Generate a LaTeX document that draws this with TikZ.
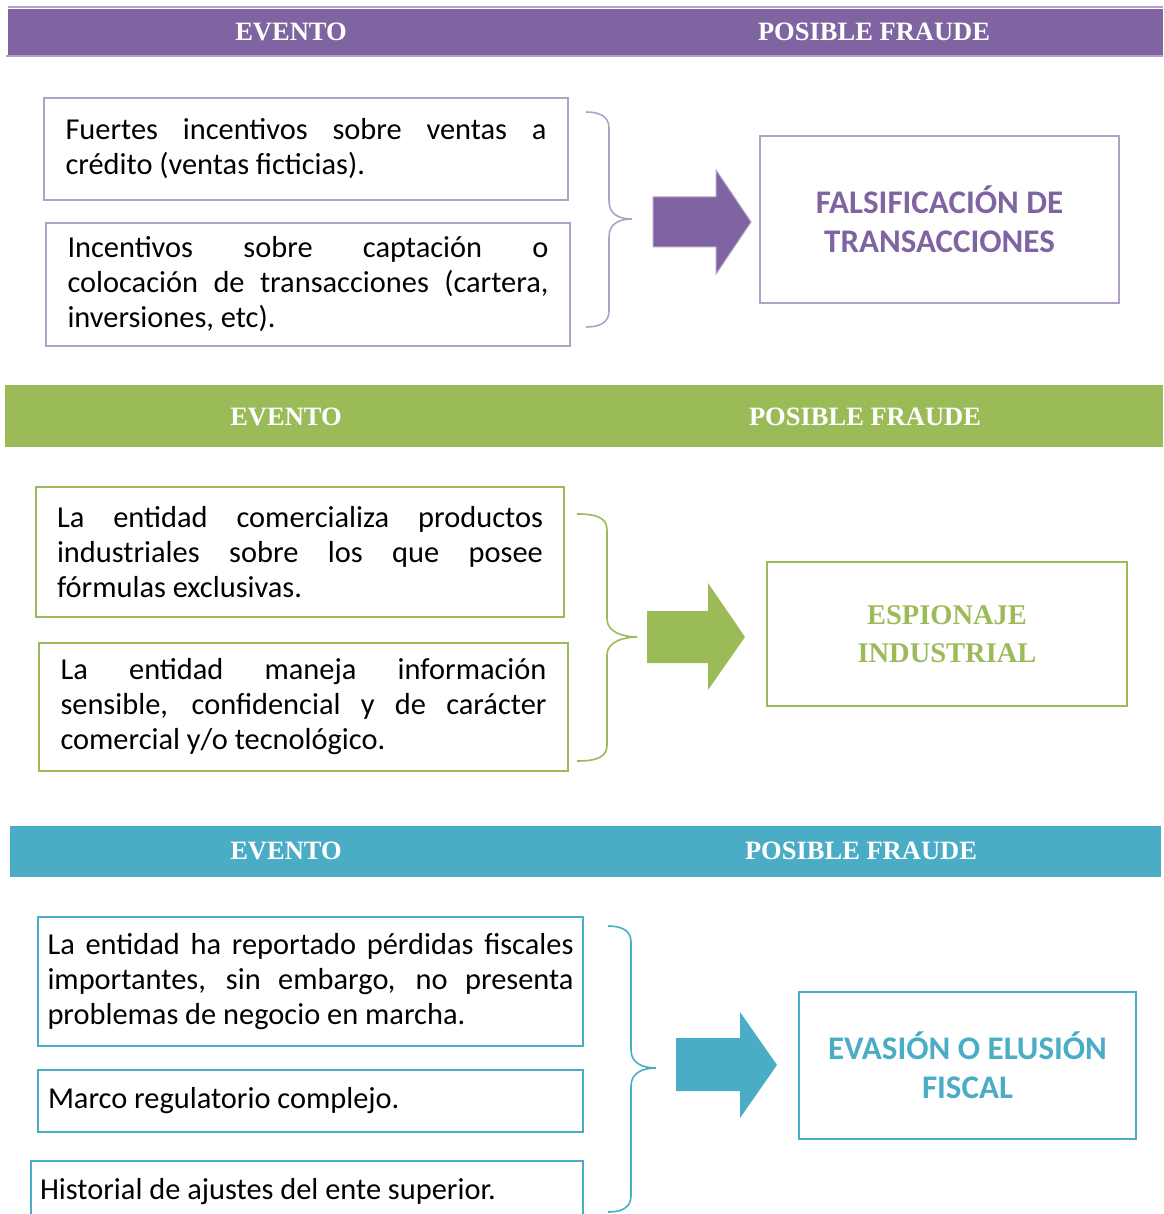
\documentclass[tikz,border=0pt]{standalone}
\usepackage{fontspec}
\setmainfont{Carlito}
\newfontfamily\hdfont{Liberation Serif}
\usetikzlibrary{calc}
\definecolor{purp}{HTML}{8064A2}
\definecolor{purpl}{HTML}{B2A1C7}
\definecolor{grn}{HTML}{9BBB59}
\definecolor{blu}{HTML}{4BACC6}
% one justified line inside a box
\newcommand{\jl}[1]{\makebox[\hsize][s]{\spaceskip=0pt\xspaceskip=0pt #1}\\}
% Word-like curly brace: x end, x stem, x tip, y top, y mid, y bottom
\newcommand{\ebrace}[7][]{\draw[brc,#1] (#2,#5) .. controls ({#3-10},#5) and (#3,{#5+4}) .. (#3,{#5+16}) -- (#3,{#6-18}) .. controls (#3,{#6-4}) and ({#4-12},#6) .. (#4,#6) .. controls ({#4-12},#6) and (#3,{#6+4}) .. (#3,{#6+18}) -- (#3,{#7-16}) .. controls (#3,{#7-4}) and ({#3-10},#7) .. (#2,#7);}

\begin{document}
\begin{tikzpicture}[x=1pt,y=-1pt,
  hdr/.style={font=\hdfont\bfseries\fontsize{26.5}{30}\selectfont, text=white, inner sep=0pt},
  ebox/.style={draw, line width=1.6pt, inner sep=0pt, align=justify, font=\fontsize{30.4}{35}\selectfont, text=black},
  rbox/.style={draw, line width=1.6pt, inner sep=0pt, align=center},
  rtxt/.style={font=\bfseries\fontsize{33}{39}\selectfont},
  brc/.style={line width=1.6pt},
]
\useasboundingbox (0,0) rectangle (1163,1214);
% ---- purple block
\fill[purp] (8,9) rectangle (1163,56);
\draw[purpl,line width=2pt] (8,7.5) -- (1163,7.5); \draw[purpl,line width=2pt] (6,56.5) -- (1163,56.5);
\node[hdr] (ev1) at (291,32) {EVENTO};
\node[hdr] (pf1) at (874,32) {POSIBLE FRAUDE};
\node[ebox,draw=purpl,minimum width=524,minimum height=102,text width=481] (a1) at (306,149) {\jl{Fuertes incentivos sobre ventas a}crédito (ventas ficticias).};
\node[ebox,draw=purpl,minimum width=524,minimum height=123,text width=481] (a2) at (308,284.5) {\jl{Incentivos sobre captación o}\jl{colocación de transacciones (cartera,}inversiones, etc).};
\ebrace[purpl]{586}{609}{632}{112}{219}{327}
\filldraw[fill=purp,draw=purpl,line width=1pt] (653,197) -- (716,197) -- (716,170) -- (751,222) -- (716,274) -- (716,247) -- (653,247) -- cycle;
\node[rbox,draw=purpl,minimum width=359,minimum height=167] (r1) at (939.5,219.5) {};
\node[rtxt,text=purp,align=center] (t1) at (r1) {FALSIFICACIÓN DE\\TRANSACCIONES};
% ---- green block
\fill[grn] (5,385) rectangle (1163,447);
\node[hdr] (ev2) at (286,417) {EVENTO};
\node[hdr] (pf2) at (865,417) {POSIBLE FRAUDE};
\node[ebox,draw=grn,minimum width=528,minimum height=130,text width=486] (b1) at (300,552) {\jl{La entidad comercializa productos}\jl{industriales sobre los que posee}fórmulas exclusivas.};
\node[ebox,draw=grn,minimum width=529,minimum height=128,text width=486] (b2) at (303.5,707) {\jl{La entidad maneja información}\jl{sensible, confidencial y de carácter}comercial y/o tecnológico.};
\ebrace[grn]{577}{607}{637}{514}{637}{761}
\fill[grn] (647,611) -- (708,611) -- (708,583) -- (745,637) -- (708,690) -- (708,663) -- (647,663) -- cycle;
\node[rbox,draw=grn,minimum width=360,minimum height=144] (r2) at (947,634) {};
\node[font=\hdfont\bfseries\fontsize{28.5}{38}\selectfont,text=grn,align=center] (t2) at (r2) {ESPIONAJE\\INDUSTRIAL};
% ---- blue block
\fill[blu] (10,826) rectangle (1161,877);
\node[hdr] (ev3) at (286,851) {EVENTO};
\node[hdr] (pf3) at (861,851) {POSIBLE FRAUDE};
\node[ebox,draw=blu,minimum width=545,minimum height=129,text width=526] (c1) at (310.5,981.5) {\jl{La entidad ha reportado pérdidas fiscales}\jl{importantes, sin embargo, no presenta}problemas de negocio en marcha.};
\node[ebox,draw=blu,minimum width=545,minimum height=62,text width=525] (c2) at (310.5,1101) {Marco regulatorio complejo.};
\node[ebox,draw=blu,minimum width=552,minimum height=62,text width=534] (c3) at (307,1192) {Historial de ajustes del ente superior.};
\ebrace[blu]{608}{631}{656}{926}{1068}{1212}
\fill[blu] (676,1038) -- (740,1038) -- (740,1012) -- (777,1065) -- (740,1118) -- (740,1091) -- (676,1091) -- cycle;
\node[rbox,draw=blu,minimum width=337,minimum height=147] (r3) at (967.5,1065.5) {};
\node[rtxt,text=blu,align=center] (t3) at (r3) {EVASIÓN O ELUSIÓN\\FISCAL};
\end{tikzpicture}
\end{document}
